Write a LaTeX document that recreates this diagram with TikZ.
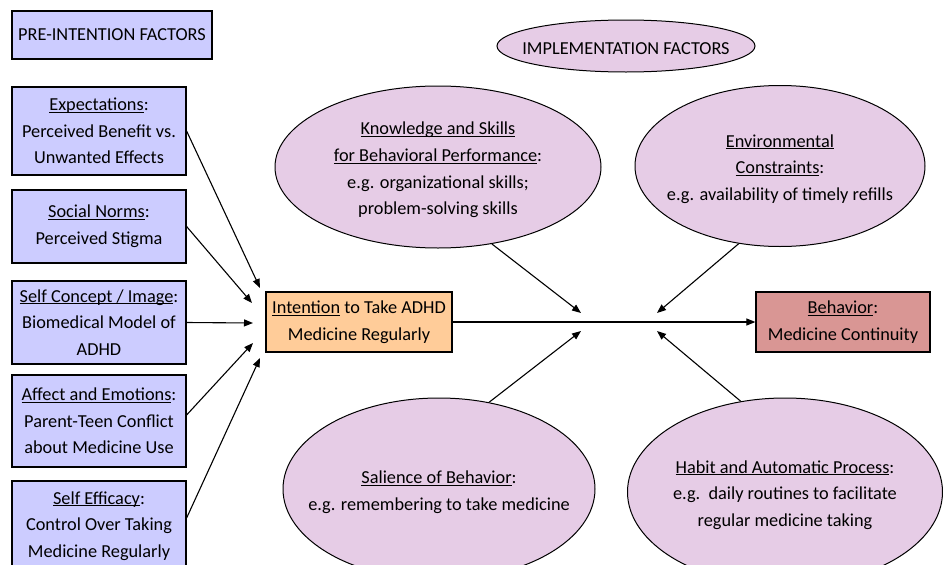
\documentclass[tikz,border=0pt]{standalone}
\usepackage{fontspec}
\setmainfont{Carlito}
\usetikzlibrary{shapes.geometric,arrows.meta}
\definecolor{prefill}{RGB}{204,204,255}
\definecolor{implfill}{RGB}{230,204,230}
\definecolor{intfill}{RGB}{255,204,153}
\definecolor{behfill}{RGB}{217,150,148}
\newcommand\undl[1]{\underline{\smash{#1}}\vphantom{#1}}
\begin{document}
\begin{tikzpicture}[x=1pt, y=-1pt,
  every node/.style = {font=\fontsize{18.3}{26.7}\selectfont, align=center, inner sep=0pt},
  every label/.style = {yshift=-3pt},
  factor/.style = {draw, line width=1.2pt, rectangle, fill=prefill, minimum width=174},
  impl/.style = {draw, line width=1pt, ellipse, fill=implfill},
  arr/.style = {-{Triangle[length=9pt,width=7pt]}, line width=1.1pt}]
  \clip (0,0) rectangle (943,565);
  % pre-intention side
  \node[factor, minimum width=200, minimum height=48] (pre) at (112,35) {PRE-INTENTION FACTORS};
  \node[factor, minimum height=88] (expect) at (99,131) {\undl{Expectations}:\\Perceived Benefit vs.\\Unwanted Effects};
  \node[factor, minimum height=73] (norms) at (99,226.5) {\undl{Social Norms}:\\Perceived Stigma};
  \node[factor, minimum height=83] (concept) at (99,322.5) {\undl{Self Concept / Image}:\\Biomedical Model of\\ADHD};
  \node[factor, minimum height=92] (affect) at (99,421) {\undl{Affect and Emotions}:\\Parent-Teen Conflict\\about Medicine Use};
  \node[factor, minimum height=90] (efficacy) at (99,526) {\undl{Self Efficacy}:\\Control Over Taking\\Medicine Regularly};
  \node[draw, line width=1.2pt, fill=intfill, minimum width=186, minimum height=60] (intent) at (359,322) {\undl{Intention} to Take ADHD\\Medicine Regularly};
  \node[draw, line width=1.2pt, fill=behfill, minimum width=174, minimum height=60] (behav) at (843,322) {\undl{Behavior}:\\Medicine Continuity};
  % implementation side
  \node[impl, minimum width=258, minimum height=52, label=center:{IMPLEMENTATION FACTORS}] (implhead) at (626,46) {};
  \node[impl, minimum width=326, minimum height=162, label=center:{\undl{Knowledge and Skills}\\\undl{for Behavioral Performance}:\\e.g. organizational skills;\\problem-solving skills}] (know) at (438,167) {};
  \node[impl, minimum width=290, minimum height=161, label=center:{\undl{Environmental}\\\undl{Constraints}:\\e.g. availability of timely refills}] (env) at (780,166) {};
  \node[impl, minimum width=312, minimum height=182, label=center:{\undl{Salience of Behavior}:\\e.g. remembering to take medicine}] (sal) at (439,489) {};
  \node[impl, minimum width=315, minimum height=188, label=center:{\undl{Habit and Automatic Process}:\\e.g.\ \ daily routines to facilitate\\regular medicine taking}] (habit) at (785,492) {};
  \coordinate (in1) at (260,288);
  \coordinate (in2) at (252,303);
  \coordinate (in3) at (253,323);
  \coordinate (in4) at (253,343);
  \coordinate (in5) at (260,358);
  \coordinate (ku) at (581,313);
  \coordinate (eu) at (657,313);
  \coordinate (sl) at (581,331);
  \coordinate (hl) at (657,331);
  \draw[arr] (expect.east) -- (in1);
  \draw[arr] (norms.east) -- (in2);
  \draw[arr] (concept.east) -- (in3);
  \draw[arr] ([yshift=6pt]affect.east) -- (in4);
  \draw[arr] ([yshift=8pt]efficacy.east) -- (in5);
  \draw[arr] (intent.east) -- (behav.west);
  \draw[arr] (know.-55) -- (ku);
  \draw[arr] (env.-118) -- (eu);
  \draw[arr] (sal.60) -- (sl);
  \draw[arr] (habit.116) -- (hl);
\end{tikzpicture}
\end{document}
